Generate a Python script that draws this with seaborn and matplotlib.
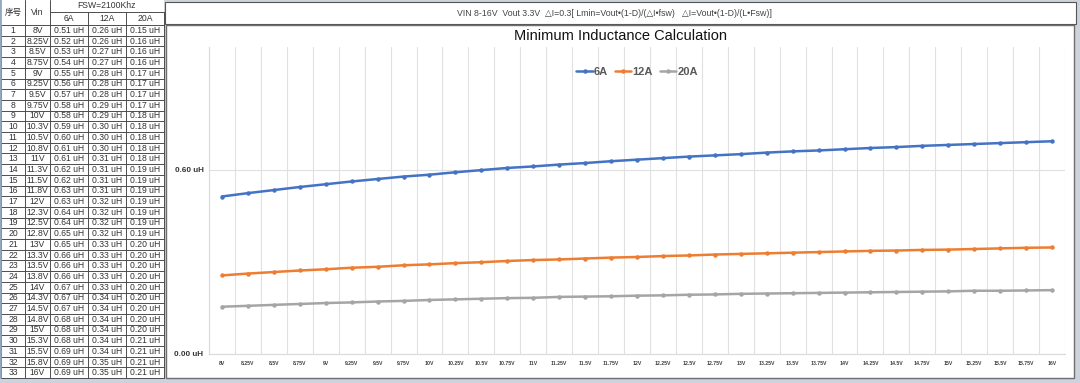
import matplotlib
matplotlib.use("Agg")
import matplotlib.pyplot as plt
from matplotlib.patches import Rectangle
import seaborn as sns
import numpy as np
import pandas as pd

# chart categories (x axis) and table Vin labels
vin_axis = ["8V", "8.25V", "8.5V", "8.75V", "9V", "9.25V", "9.5V", "9.75V", "10V",
            "10.25V", "10.5V", "10.75V", "11V", "11.25V", "11.5V", "11.75V", "12V",
            "12.25V", "12.5V", "12.75V", "13V", "13.25V", "13.5V", "13.75V", "14V",
            "14.25V", "14.5V", "14.75V", "15V", "15.25V", "15.5V", "15.75V", "16V"]
vin_table = ["8V", "8.25V", "8.5V", "8.75V", "9V", "9.25V", "9.5V", "9.75V", "10V",
             "10.3V", "10.5V", "10.8V", "11V", "11.3V", "11.5V", "11.8V", "12V",
             "12.3V", "12.5V", "12.8V", "13V", "13.3V", "13.5V", "13.8V", "14V",
             "14.3V", "14.5V", "14.8V", "15V", "15.3V", "15.5V", "15.8V", "16V"]

# minimum inductance in uH
l_6a = [0.513, 0.524, 0.534, 0.544, 0.553, 0.562, 0.570, 0.578, 0.584, 0.592,
        0.599, 0.606, 0.611, 0.617, 0.622, 0.628, 0.633, 0.638, 0.643, 0.647,
        0.651, 0.656, 0.660, 0.663, 0.667, 0.671, 0.674, 0.678, 0.681, 0.684,
        0.687, 0.690, 0.693]
l_12a = [0.256, 0.262, 0.267, 0.272, 0.276, 0.281, 0.284, 0.289, 0.292, 0.296,
         0.299, 0.303, 0.306, 0.308, 0.311, 0.314, 0.316, 0.319, 0.321, 0.324,
         0.326, 0.328, 0.330, 0.332, 0.334, 0.336, 0.337, 0.339, 0.340, 0.342,
         0.344, 0.346, 0.347]
l_20a = [0.154, 0.157, 0.160, 0.163, 0.166, 0.168, 0.171, 0.173, 0.176, 0.178,
         0.180, 0.182, 0.183, 0.186, 0.187, 0.188, 0.190, 0.191, 0.193, 0.194,
         0.196, 0.197, 0.198, 0.199, 0.200, 0.201, 0.202, 0.203, 0.204, 0.206,
         0.206, 0.207, 0.208]

series_names = ["6A", "12A", "20A"]
series_colors = ["#4472C4", "#ED7D31", "#A5A5A5"]
y_ticks = [0.0, 0.6]

header_text = "VIN 8-16V  Vout 3.3V  \u25b3I=0.3[ Lmin=Vout\u2022(1-D)/(\u25b3I\u2022fsw)   \u25b3I=Vout\u2022(1-D)/(L\u2022Fsw)]"
chart_title = "Minimum Inductance Calculation"

sns.set_style("white")
plt.rcParams["font.family"] = ["Liberation Sans", "DejaVu Sans", "Noto Sans CJK SC"]

W, H = 1080, 383
fig = plt.figure(figsize=(W / 100, H / 100), dpi=100, facecolor="#cdd3dc")

# background canvas in pixel coordinates (table + frames)
bg = fig.add_axes([0, 0, 1, 1])
bg.set_xlim(0, W)
bg.set_ylim(H, 0)
bg.axis("off")

# spreadsheet table
cols = [1, 25, 50, 88, 126, 164]
row_top = 25
row_h = 10.7
n = len(vin_table)
table_bottom = row_top + n * row_h
bg.add_patch(Rectangle((1, 0), 163, table_bottom, facecolor="white", edgecolor="none"))
lc = "#4d4d4d"
lw = 0.7
txt = "#333333"
fs = 6.2
cjk = ["Noto Sans CJK SC", "DejaVu Sans"]
# header
bg.plot([cols[2], cols[5]], [12, 12], color=lc, lw=lw)
bg.plot([cols[0], cols[5]], [row_top, row_top], color=lc, lw=lw)
bg.text((cols[0] + cols[1]) / 2, 12.5, "序号", ha="center", va="center", fontsize=fs, color=txt, family=cjk)
bg.text((cols[1] + cols[2]) / 2, 12.5, "Vin", ha="center", va="center", fontsize=fs, color=txt)
bg.text((cols[2] + cols[5]) / 2, 6, "FSW=2100Khz", ha="center", va="center", fontsize=fs, color=txt)
for j, name in enumerate(series_names):
    bg.text((cols[2 + j] + cols[3 + j]) / 2, 18.5, name, ha="center", va="center", fontsize=fs, color=txt)
for j in range(3):
    bg.plot([cols[3 + j], cols[3 + j]], [12, row_top], color=lc, lw=lw)
bg.plot([cols[2], cols[2]], [0, row_top], color=lc, lw=lw)
bg.plot([cols[1], cols[1]], [0, row_top], color=lc, lw=lw)

values = [l_6a, l_12a, l_20a]
for i in range(n):
    yc = row_top + (i + 0.5) * row_h
    bg.text((cols[0] + cols[1]) / 2, yc, str(i + 1), ha="center", va="center", fontsize=fs, color=txt)
    bg.text((cols[1] + cols[2]) / 2, yc, vin_table[i], ha="center", va="center", fontsize=fs, color=txt)
    for j in range(3):
        bg.text((cols[2 + j] + cols[3 + j]) / 2, yc, f"{values[j][i]:.2f} uH",
                ha="center", va="center", fontsize=fs, color=txt)
    bg.plot([cols[0], cols[5]], [row_top + (i + 1) * row_h] * 2, color=lc, lw=lw)
for x in cols:
    bg.plot([x, x], [row_top, table_bottom], color=lc, lw=lw)
bg.plot([cols[0], cols[0]], [0, table_bottom], color="#8aa0bf", lw=1.2)

# header box with formula
bg.add_patch(Rectangle((165, 2), 911, 22, facecolor="white", edgecolor="#555555", lw=0.8))
bg.text(614, 14, header_text, ha="center", va="center", fontsize=6.3, color="#444444")

# chart box
bg.add_patch(Rectangle((166, 25), 908, 353, facecolor="white", edgecolor="#6e6e6e", lw=1.0))
bg.text(620, 36, chart_title, ha="center", va="center", fontsize=10.5, color="#111111")

# chart axes
left, right, top, bottom = 209, 1065, 47, 354
ax = fig.add_axes([left / W, (H - bottom) / H, (right - left) / W, (bottom - top) / H])
ax.set_facecolor("white")

df = pd.DataFrame({
    "Vin": np.tile(np.arange(len(vin_axis)), 3),
    "L": l_6a + l_12a + l_20a,
    "Current": np.repeat(series_names, len(vin_axis)),
})
sns.lineplot(data=df, x="Vin", y="L", hue="Current", hue_order=series_names,
             palette=series_colors, marker="o", markersize=3.2, markeredgewidth=0,
             linewidth=1.8, ax=ax)

ax.set_xlim(-0.5, len(vin_axis) - 0.5)
ax.set_ylim(0, 1.0)
ax.set_xticks(range(len(vin_axis)))
ax.set_xticklabels(vin_axis, fontsize=3.7, fontweight="bold", color="#404040")
ax.set_xticks(np.arange(len(vin_axis) + 1) - 0.5, minor=True)
ax.set_yticks(y_ticks)
ax.set_yticklabels([f"{v:.2f} uH" for v in y_ticks], fontsize=5.8, fontweight="bold", color="#333333")
ax.tick_params(axis="both", which="both", length=0)
ax.tick_params(axis="x", pad=5)
ax.tick_params(axis="y", pad=4)
ax.grid(True, axis="x", which="minor", color="#e0e0e0", lw=0.8)
ax.grid(True, axis="y", which="major", color="#e0e0e0", lw=0.8)
ax.grid(False, axis="x", which="major")
for s in ["top", "right"]:
    ax.spines[s].set_visible(False)
ax.spines["left"].set_color("#d9d9d9")
ax.spines["bottom"].set_color("#d9d9d9")
ax.set_xlabel("")
ax.set_ylabel("")

handles, labels = ax.get_legend_handles_labels()
leg = ax.legend(handles, labels, loc="center", bbox_to_anchor=(0.5, 0.918), ncol=3,
                frameon=False, handlelength=1.5, handletextpad=0.1, columnspacing=0.6,
                prop={"size": 8, "weight": "bold"})
for t in leg.get_texts():
    t.set_color("#595959")

fig.savefig("out.png", dpi=100, facecolor=fig.get_facecolor())
